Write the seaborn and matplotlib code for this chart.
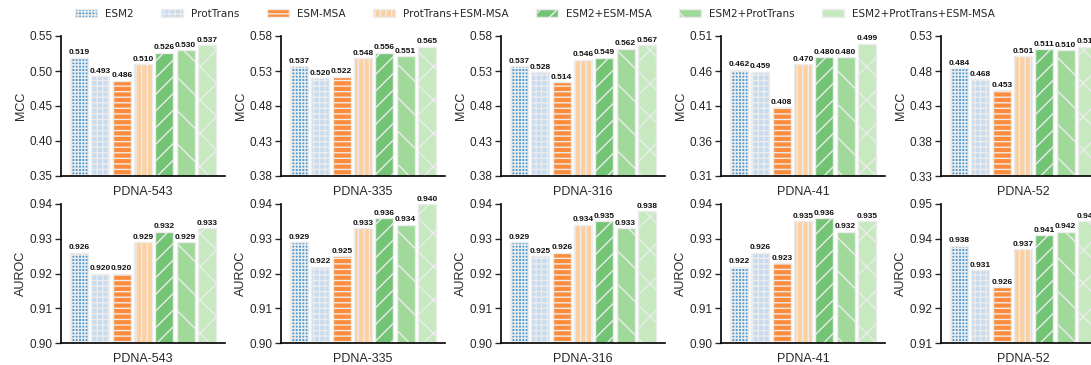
import numpy as np
import pandas as pd
import matplotlib
matplotlib.use("Agg")
import matplotlib.pyplot as plt
from matplotlib.patches import Patch
import seaborn as sns

methods = ["ESM2", "ProtTrans", "ESM-MSA", "ProtTrans+ESM-MSA",
           "ESM2+ESM-MSA", "ESM2+ProtTrans", "ESM2+ProtTrans+ESM-MSA"]
datasets = ["PDNA-543", "PDNA-335", "PDNA-316", "PDNA-41", "PDNA-52"]

mcc_543 = [0.519, 0.493, 0.486, 0.510, 0.526, 0.530, 0.537]
mcc_335 = [0.537, 0.520, 0.522, 0.548, 0.556, 0.551, 0.565]
mcc_316 = [0.537, 0.528, 0.514, 0.546, 0.549, 0.562, 0.567]
mcc_41 = [0.462, 0.459, 0.408, 0.470, 0.480, 0.480, 0.499]
mcc_52 = [0.484, 0.468, 0.453, 0.501, 0.511, 0.510, 0.515]

auroc_543 = [0.926, 0.920, 0.920, 0.929, 0.932, 0.929, 0.933]
auroc_335 = [0.929, 0.922, 0.925, 0.933, 0.936, 0.934, 0.940]
auroc_316 = [0.929, 0.925, 0.926, 0.934, 0.935, 0.933, 0.938]
auroc_41 = [0.922, 0.926, 0.923, 0.935, 0.936, 0.932, 0.935]
auroc_52 = [0.938, 0.931, 0.926, 0.937, 0.941, 0.942, 0.945]

mcc_ticks = [[0.35, 0.40, 0.45, 0.50, 0.55],
             [0.38, 0.43, 0.48, 0.53, 0.58],
             [0.38, 0.43, 0.48, 0.53, 0.58],
             [0.31, 0.36, 0.41, 0.46, 0.51],
             [0.33, 0.38, 0.43, 0.48, 0.53]]
auroc_ticks = [[0.90, 0.91, 0.92, 0.93, 0.94],
               [0.90, 0.91, 0.92, 0.93, 0.94],
               [0.90, 0.91, 0.92, 0.93, 0.94],
               [0.90, 0.91, 0.92, 0.93, 0.94],
               [0.91, 0.92, 0.93, 0.94, 0.95]]

colors = ["#4f9bd6", "#c6dbef", "#fd8d3c", "#fdd0a2", "#74c476", "#a1d99b", "#c7e9c0"]
hatches = ["+++++", "+++", "---", "|||", "//", "\\", "x"]

mcc_all = [mcc_543, mcc_335, mcc_316, mcc_41, mcc_52]
auroc_all = [auroc_543, auroc_335, auroc_316, auroc_41, auroc_52]

sns.set_style("white")
plt.rcParams["font.family"] = ["Liberation Sans", "DejaVu Sans"]
plt.rcParams["hatch.linewidth"] = 1.0

W, H = 1091, 365
fig = plt.figure(figsize=(W / 100, H / 100), dpi=100)

def px_axes(left, top, width, height):
    return fig.add_axes([left / W, 1 - (top + height) / H, width / W, height / H])

edge = "#ececec"

def draw(ax, vals, ticks, ylabel, dname):
    df = pd.DataFrame({"method": methods, "value": vals})
    sns.barplot(data=df, x="method", y="value", hue="method", order=methods,
                hue_order=methods, palette=colors, saturation=1, legend=False,
                width=0.85, edgecolor=edge, linewidth=1.0, ax=ax)
    bars = [cont.patches[0] for cont in ax.containers]
    for p, h in zip(bars, hatches):
        p.set_hatch(h)
        p.set_edgecolor(edge)
    for cont in ax.containers:
        ax.bar_label(cont, fmt="%.3f", padding=1, fontsize=6.0,
                     fontweight="bold", color="#111111")
    ax.set_xlim(-0.85, 6.85)
    ax.set_ylim(ticks[0], ticks[-1])
    ax.set_yticks(ticks)
    ax.set_yticklabels([f"{t:.2f}" for t in ticks])
    ax.set_xticks([])
    ax.set_xlabel(dname, fontsize=9, labelpad=7)
    ax.set_ylabel(ylabel, fontsize=9, labelpad=2)
    for s in ["top", "right"]:
        ax.spines[s].set_visible(False)
    for s in ["left", "bottom"]:
        ax.spines[s].set_color("black")
        ax.spines[s].set_linewidth(1.2)
    ax.tick_params(axis="y", which="both", left=True, length=4, width=1.0,
                   labelsize=8.5, pad=2, direction="out")

for i in range(5):
    left = 61 + 220 * i
    ax1 = px_axes(left, 36, 164, 140)
    draw(ax1, mcc_all[i], mcc_ticks[i], "MCC", datasets[i])
    ax2 = px_axes(left, 204, 164, 139)
    draw(ax2, auroc_all[i], auroc_ticks[i], "AUROC", datasets[i])

handles = [Patch(facecolor=c, edgecolor=edge, hatch=h, linewidth=1.0)
           for c, h in zip(colors, hatches)]
fig.legend(handles, methods, ncol=7, loc="center", bbox_to_anchor=(535 / W, 1 - 14 / H),
           frameon=False, prop={"family": "DejaVu Sans", "size": 7.5},
           handlelength=2.1, handleheight=0.8, handletextpad=0.8, columnspacing=2.6)

fig.savefig("out.png", dpi=100)
